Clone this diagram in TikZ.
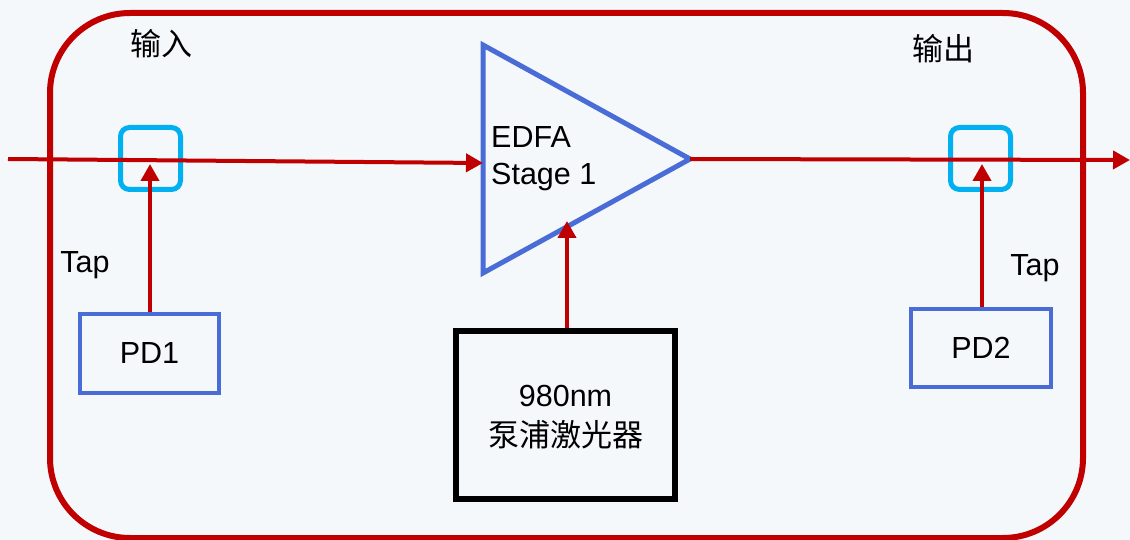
\documentclass[tikz,border=0pt]{standalone}
\usepackage{fontspec}
\setmainfont{Liberation Sans}
\newfontfamily\cjk{Noto Sans CJK SC}
\usetikzlibrary{arrows.meta}
\definecolor{bg}{RGB}{245,248,250}
\definecolor{fred}{RGB}{192,0,0}
\definecolor{fblue}{RGB}{74,108,214}
\definecolor{fcyan}{RGB}{0,176,240}
\tikzset{
  txt/.style={font=\fontsize{30.5}{36}\selectfont, inner sep=0pt},
  cjktxt/.style={font=\fontsize{31}{36}\selectfont\cjk, inner sep=0pt},
  sig/.style={draw=fred, line width=4pt, -{Triangle[length=17pt,width=18pt]}},
  tapbox/.style={draw=fcyan, line width=5pt, rounded corners=9pt, minimum width=60pt, minimum height=62pt, inner sep=0pt},
  pdbox/.style={draw=fblue, line width=4.5pt, inner sep=0pt},
  pumpbox/.style={draw=black, line width=6pt, minimum width=219pt, minimum height=168pt, inner sep=0pt},
}
\begin{document}
\begin{tikzpicture}[x=1pt,y=-1pt]
\fill[bg] (0,0) rectangle (1130,540);
\useasboundingbox (0,0) rectangle (1130,540);
% outer frame
\draw[fred, line width=6pt, rounded corners=80pt] (50,13) rectangle (1083,538);
% labels
\node[cjktxt] (in) at (161,44) {输入};
\node[cjktxt] (out) at (943,49) {输出};
% tap boxes
\node[tapbox] (tap1) at (150.5,158.5) {};
\node[tapbox] (tap2) at (980.5,158.5) {};
% PD boxes
\node[pdbox, minimum width=139pt, minimum height=79pt] (pd1) at (149.5,353.5) {};
\node[txt] at (pd1.center) {PD1};
\node[pdbox, minimum width=140pt, minimum height=78pt] (pd2) at (981,348) {};
\node[txt] at (pd2.center) {PD2};
% pump box
\node[pumpbox] (pump) at (565.5,415) {};
\node[txt] (pumptxt) at (565.5,396) {980nm};
\node[cjktxt] (pumpcn) at (565.5,435) {泵浦激光器};
% EDFA triangle
\coordinate (triA) at (483,45);
\coordinate (triB) at (483,273);
\coordinate (tip) at (690,159);
\coordinate (triIn) at (483,163);
\coordinate (triBot) at (567,221);
\draw[fblue, line width=5pt, line join=miter] (triA) -- (tip) -- (triB) -- cycle;
\node[txt, anchor=base west] (edfa) at (491,148) {EDFA};
\node[txt, anchor=base west] (stage) at (491,185) {Stage 1};
% signal path
\coordinate (src) at (8,159);
\coordinate (sink) at (1130,160);
\draw[sig] (src) -- (triIn);
\draw[sig] (tip) -- (sink);
% taps
\coordinate (tap1in) at (150,164);
\coordinate (tap2in) at (982,164);
\draw[sig] (pd1.north -| tap1in) -- (tap1in);
\draw[sig] (pd2.north -| tap2in) -- (tap2in);
% pump arrow
\draw[sig] (pump.north -| triBot) -- (triBot);
% Tap labels
\node[txt] (tapl1) at (85,265) {Tap};
\node[txt] (tapl2) at (1035,268) {Tap};
\end{tikzpicture}
\end{document}
